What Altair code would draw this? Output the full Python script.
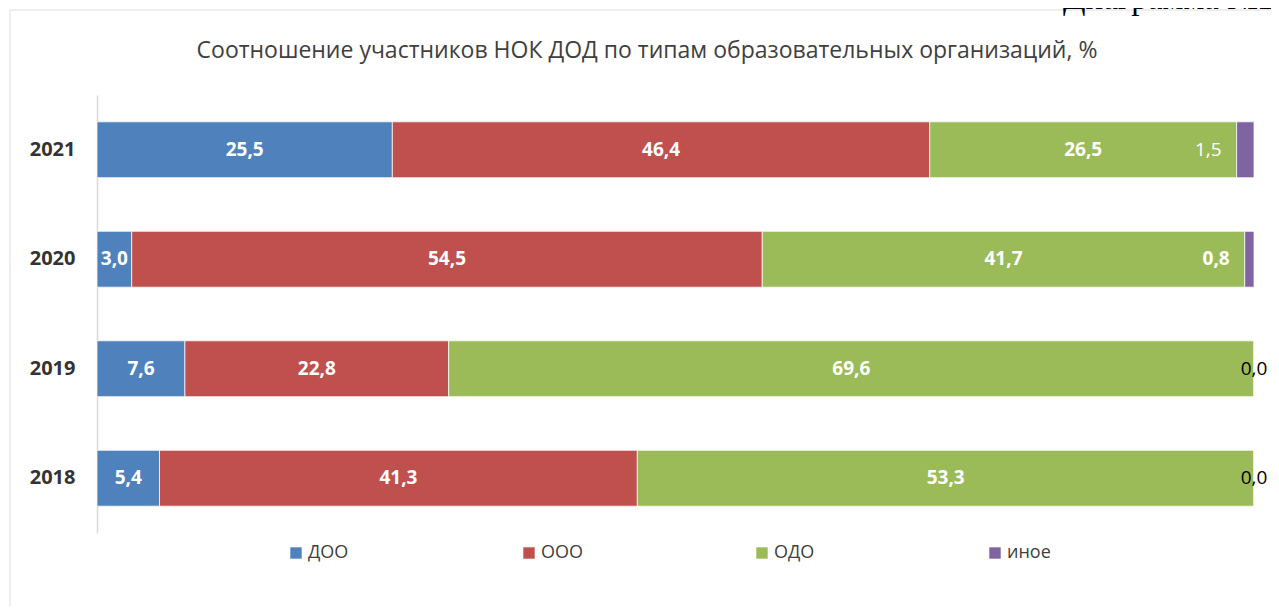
import altair as alt
import pandas as pd

years = ["2021", "2020", "2019", "2018"]
categories = ["ДОО", "ООО", "ОДО", "иное"]
colors = ["#4F81BD", "#C0504D", "#9BBB59", "#8064A2"]
doo = [25.5, 3.0, 7.6, 5.4]
ooo = [46.4, 54.5, 22.8, 41.3]
odo = [26.5, 41.7, 69.6, 53.3]
inoe = [1.5, 0.8, 0.0, 0.0]
title_text = "Соотношение участников НОК ДОД по типам образовательных организаций, %"
caption_text = "Диаграмма №2"

series = [doo, ooo, odo, inoe]
rows = []
for i, y in enumerate(years):
    vals = [s[i] for s in series]
    total = sum(vals)
    cum = 0.0
    for j, c in enumerate(categories):
        v = vals[j]
        start = cum / total * 100
        cum += v
        end = cum / total * 100
        if v == 0:
            kind = "zero"
        elif v < 2:
            kind = "small_bold" if y == "2020" else "small"
        else:
            kind = "main"
        rows.append(dict(year=y, cat=c, order=j, value=v, start=start, end=end,
                         mid=(start + end) / 2,
                         label=f"{v:.1f}".replace(".", ","), kind=kind))
df = pd.DataFrame(rows)

FONT = "Open Sans"
LBL = 19

ysc = alt.Scale(domain=years, paddingInner=0.49, paddingOuter=0.245)
xsc = alt.Scale(domain=[0, 100], nice=False, zero=True)

base = alt.Chart(df)

bars = base.mark_bar(stroke="white", strokeWidth=0.75).encode(
    y=alt.Y("year:N", scale=ysc, sort=years, title=None,
            axis=alt.Axis(labelFont=FONT, labelFontSize=20, labelFontWeight="bold",
                          labelColor="#333333", ticks=False, labelPadding=22,
                          domainColor="#d9d9d9", domainWidth=1.5)),
    x=alt.X("start:Q", scale=xsc, axis=None),
    x2="end:Q",
    color=alt.Color("cat:N", scale=alt.Scale(domain=categories, range=colors),
                    title=None,
                    legend=alt.Legend(orient="none", legendX=190, legendY=449,
                                      direction="horizontal", columns=4,
                                      gridAlign="all", columnPadding=168,
                                      symbolType="square", symbolSize=130,
                                      symbolStrokeWidth=0, labelFont=FONT,
                                      labelFontSize=18, labelColor="#404040",
                                      labelOffset=3, padding=0)),
    order="order:Q",
)

def lbl(kind, **kw):
    return base.transform_filter(alt.datum.kind == kind).mark_text(font=FONT, fontSize=LBL, **kw)

enc_y = alt.Y("year:N", scale=ysc, sort=years)
main = lbl("main", color="white", fontWeight="bold").encode(
    y=enc_y, x=alt.X("mid:Q", scale=xsc), text="label:N")
small = lbl("small", color="white", align="right", dx=-15).encode(
    y=enc_y, x=alt.X("start:Q", scale=xsc), text="label:N")
small_b = lbl("small_bold", color="white", fontWeight="bold", align="right", dx=-15).encode(
    y=enc_y, x=alt.X("start:Q", scale=xsc), text="label:N")
zero = lbl("zero", color="black", dx=0).encode(
    y=enc_y, x=alt.X("start:Q", scale=xsc), text="label:N")

tdf = pd.DataFrame({"t": [title_text]})
title = alt.Chart(tdf).mark_text(font=FONT, fontSize=23, color="#404040", baseline="alphabetic").encode(
    text="t:N", x=alt.value(550), y=alt.value(-37))

cdf = pd.DataFrame({"t": [caption_text]})
caption = alt.Chart(cdf).mark_text(font="Liberation Serif", fontSize=33, color="black",
                                   align="left", baseline="alphabetic").encode(
    text="t:N", x=alt.value(1063 - 97), y=alt.value(9 - 95))

fdf = pd.DataFrame({"a": [0]})
frame_top = alt.Chart(fdf).mark_rule(color="#eeeeee", strokeWidth=2).encode(
    x=alt.value(10 - 97), x2=alt.value(1279 - 97), y=alt.value(10 - 95))
frame_left = alt.Chart(fdf).mark_rule(color="#eeeeee", strokeWidth=2).encode(
    x=alt.value(10 - 97), y=alt.value(10 - 95), y2=alt.value(614 - 95))

chart = alt.layer(frame_top, frame_left, bars, main, small, small_b, zero, title, caption).properties(
    width=1157, height=438,
    background="white",
    autosize=alt.AutoSizeParams(type="none"),
    padding={"left": 89, "top": 87, "right": 17, "bottom": 73},
).configure_view(strokeWidth=0, stroke="transparent")

chart.save("out.html", embed_options={"renderer": "svg", "actions": False})
